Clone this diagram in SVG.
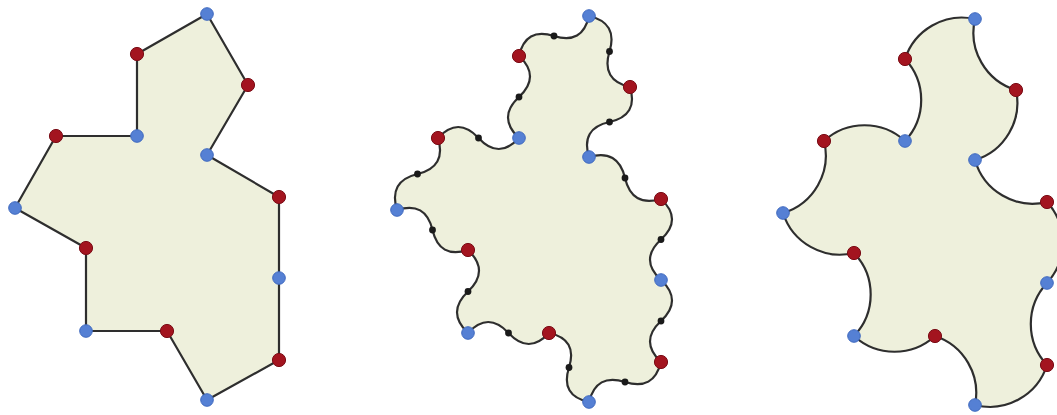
<svg xmlns="http://www.w3.org/2000/svg" width="1057" height="415" viewBox="0 0 1057 415">
  <defs>
    <style>
      .outline { fill: #eef0dc; stroke: #2e2e2e; stroke-width: 2.2; stroke-linejoin: round; }
      .red { fill: #a3141f; stroke: #7a0d16; stroke-width: 1; }
      .blue { fill: #5580d4; stroke: #3f69bf; stroke-width: 1; }
      .mid { fill: #1a1a1a; }
    </style>
    <g id="vertices">
      <circle class="blue" cx="207" cy="14" r="6.3"/>
      <circle class="red" cx="248" cy="85" r="6.6"/>
      <circle class="blue" cx="207" cy="155" r="6.3"/>
      <circle class="red" cx="279" cy="197" r="6.6"/>
      <circle class="blue" cx="279" cy="278" r="6.3"/>
      <circle class="red" cx="279" cy="360" r="6.6"/>
      <circle class="blue" cx="207" cy="400" r="6.3"/>
      <circle class="red" cx="167" cy="331" r="6.6"/>
      <circle class="blue" cx="86" cy="331" r="6.3"/>
      <circle class="red" cx="86" cy="248" r="6.6"/>
      <circle class="blue" cx="15" cy="208" r="6.3"/>
      <circle class="red" cx="56" cy="136" r="6.6"/>
      <circle class="blue" cx="137" cy="136" r="6.3"/>
      <circle class="red" cx="137" cy="54" r="6.6"/>
    </g>
  </defs>

  <g id="shape-polygon">
    <path class="outline" d="M207,14 L248,85 L207,155 L279,197 L279,278 L279,360 L207,400 L167,331 L86,331 L86,248 L15,208 L56,136 L137,136 L137,54 Z"/>
    <use href="#vertices"/>
  </g>

  <g id="shape-wavy" transform="translate(382,2)">
    <path class="outline" d="M207,14 Q236.3,20.75 227.5,49.5 T248,85 Q256.74,113.62 227.5,120 T207,155 Q236.08,146.51 243,176 T279,197 Q301,217.25 279,237.5 T279,278 Q301,298.5 279,319 T279,360 Q271.68,389.22 243,380 T207,400 Q177.97,393.78 187,365.5 T167,331 Q146.75,353 126.5,331 T86,331 Q64,310.25 86,289.5 T86,248 Q57.45,257.17 50.5,228 T15,208 Q6.14,179.12 35.5,172 T56,136 Q76.25,114 96.5,136 T137,136 Q115,115.5 137,95 T137,54 Q143.58,24.9 172,34 T207,14 Z"/>
    <g id="midpoints">
      <circle class="mid" cx="227.5" cy="49.5" r="3.4"/>
      <circle class="mid" cx="227.5" cy="120" r="3.4"/>
      <circle class="mid" cx="243" cy="176" r="3.4"/>
      <circle class="mid" cx="279" cy="237.5" r="3.4"/>
      <circle class="mid" cx="279" cy="319" r="3.4"/>
      <circle class="mid" cx="243" cy="380" r="3.4"/>
      <circle class="mid" cx="187" cy="365.5" r="3.4"/>
      <circle class="mid" cx="126.5" cy="331" r="3.4"/>
      <circle class="mid" cx="86" cy="289.5" r="3.4"/>
      <circle class="mid" cx="50.5" cy="228" r="3.4"/>
      <circle class="mid" cx="35.5" cy="172" r="3.4"/>
      <circle class="mid" cx="96.5" cy="136" r="3.4"/>
      <circle class="mid" cx="137" cy="95" r="3.4"/>
      <circle class="mid" cx="172" cy="34" r="3.4"/>
    </g>
    <use href="#vertices"/>
  </g>

  <g id="shape-arcs" transform="translate(768,5)">
    <path class="outline" d="M207,14 A60,60 0 0 0 248,85 A60,60 0 0 1 207,155 A60,60 0 0 0 279,197 A60,60 0 0 1 279,278 A60,60 0 0 0 279,360 A60,60 0 0 1 207,400 A60,60 0 0 0 167,331 A60,60 0 0 1 86,331 A60,60 0 0 0 86,248 A60,60 0 0 1 15,208 A60,60 0 0 0 56,136 A60,60 0 0 1 137,136 A60,60 0 0 0 137,54 A60,60 0 0 1 207,14 Z"/>
    <use href="#vertices"/>
  </g>
</svg>
